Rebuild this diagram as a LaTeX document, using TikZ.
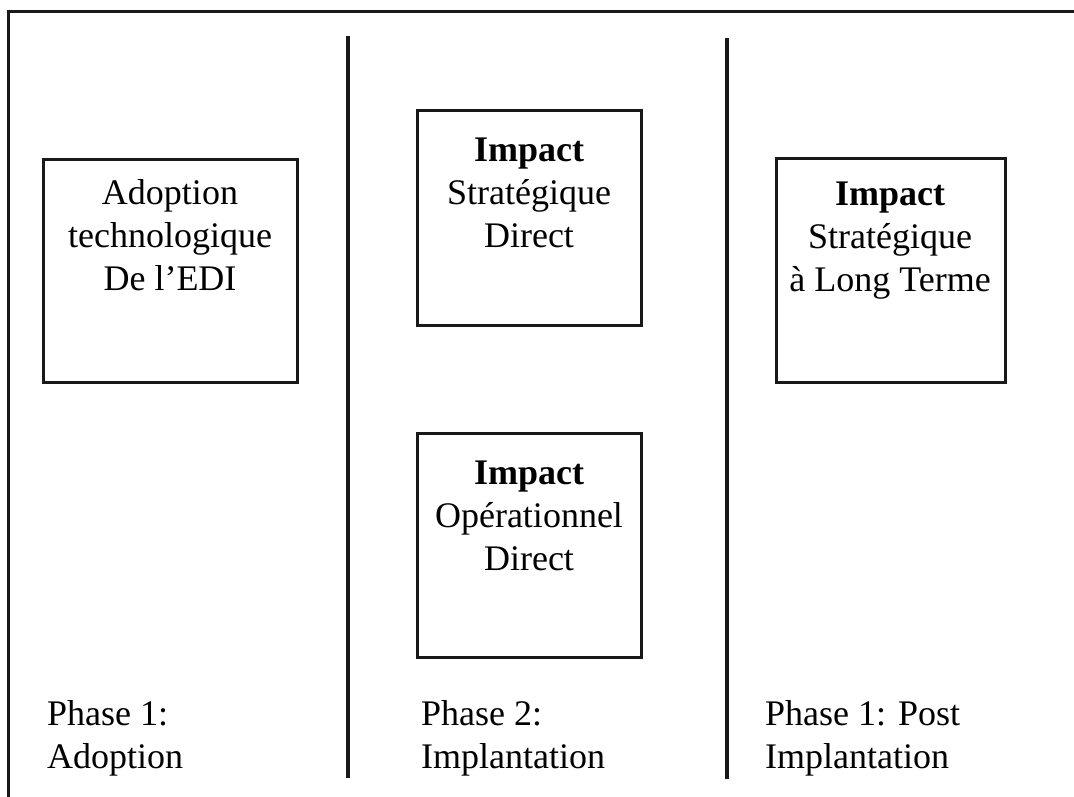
\documentclass[tikz,border=0pt]{standalone}
\usepackage{fontspec}
\setmainfont{Liberation Serif}
\begin{document}
\begin{tikzpicture}[x=1pt,y=-1pt,
  frameline/.style={line width=3pt,black!90},
  divider/.style={line width=4.5pt,black!90},
  phasebox/.style={draw=black!90,line width=3pt},
  boxtext/.style={anchor=north,inner sep=0pt,align=center,font=\fontsize{36}{43}\selectfont},
  phasetext/.style={anchor=north west,inner sep=0pt,align=left,font=\fontsize{36}{43}\selectfont}]
\useasboundingbox (0,0) rectangle (1074,797);
\draw[frameline] (8,797) -- (8,12) -- (1074,12);
\coordinate (d1t) at (348,36); \coordinate (d1b) at (348,778);
\coordinate (d2t) at (727,38); \coordinate (d2b) at (727,779);
\draw[divider] (d1t) -- (d1b);
\draw[divider] (d2t) -- (d2b);
\draw[phasebox] (43,160) rectangle (297,382);
\draw[phasebox] (417,111) rectangle (641,325);
\draw[phasebox] (417,433) rectangle (641,657);
\draw[phasebox] (776,159) rectangle (1005,382);
\node[boxtext] (t1) at (170,179) {Adoption\\technologique\\De l’EDI};
\node[boxtext] (t2) at (529,138) {\textbf{Impact}\\Stratégique\\Direct};
\node[boxtext] (t3) at (529,461) {\textbf{Impact}\\Opérationnel\\Direct};
\node[boxtext] (t4) at (890,182) {\textbf{Impact}\\Stratégique\\à Long Terme};
\node[phasetext] (p1) at (47,700) {Phase 1:\\Adoption};
\node[phasetext] (p2) at (421,700) {Phase 2:\\Implantation};
\node[phasetext] (p3) at (765,700) {Phase 1: Post\\Implantation};
\end{tikzpicture}
\end{document}
